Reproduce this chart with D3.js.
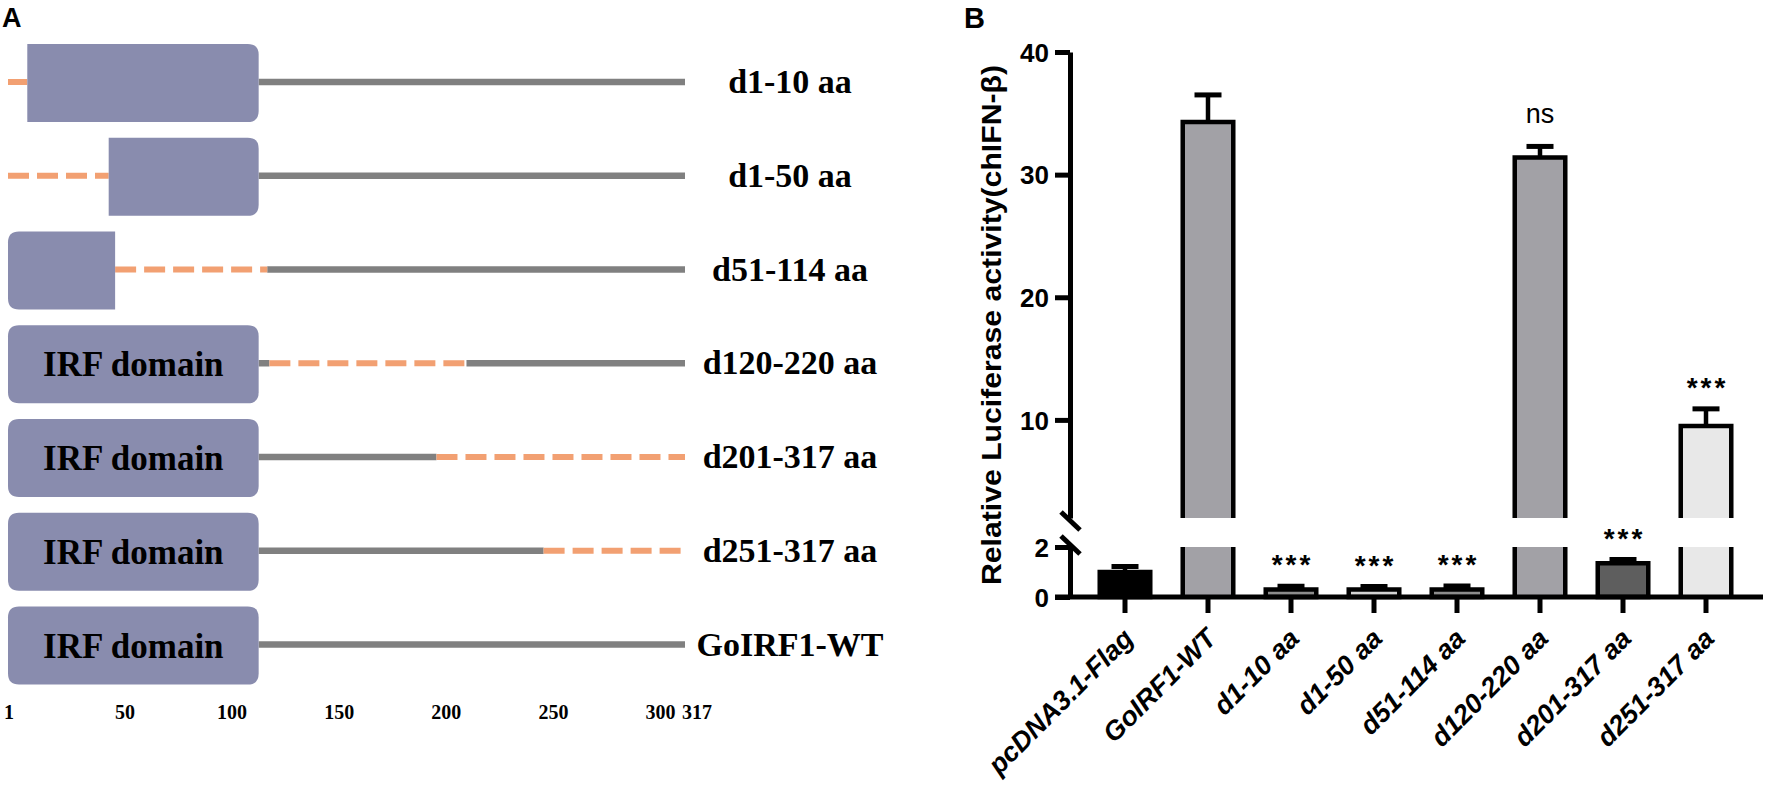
<!DOCTYPE html>
<html><head><meta charset="utf-8">
<script src="https://cdn.jsdelivr.net/npm/d3@7"></script>
<style>
html,body{margin:0;padding:0;background:#fff;}
svg{display:block;}
</style></head>
<body>
<svg id="chart" width="1769" height="790"></svg>
<script>
// ---------- Panel A data ----------
const proteinLength = 317;
const irfDomain = [1, 118];
const constructs = ["d1-10 aa", "d1-50 aa", "d51-114 aa", "d120-220 aa", "d201-317 aa", "d251-317 aa", "GoIRF1-WT"];
const deletions = [[1, 10], [1, 48], [51, 122], [123, 215], [201, 317], [251, 317], null];
const aaTicks = [1, 50, 100, 150, 200, 250, 300, 317];

// ---------- Panel B data ----------
const categories = ["pcDNA3.1-Flag", "GoIRF1-WT", "d1-10 aa", "d1-50 aa", "d51-114 aa", "d120-220 aa", "d201-317 aa", "d251-317 aa"];
const means = [1.0, 34.3, 0.3, 0.3, 0.3, 31.4, 1.35, 9.5];
const errors = [0.22, 2.2, 0.13, 0.12, 0.14, 0.9, 0.15, 1.4];
const significance = ["", "", "***", "***", "***", "ns", "***", "***"];
const upperTicks = [10, 20, 30, 40];
const lowerTicks = [0, 2];
const breakValue = 2;

const barColors = ["#000000", "#a2a1a6", "#8c8c8c", "#d4d4d4", "#8c8c8c", "#a2a1a6", "#5e5e5e", "#e8e8e8"];

const svg = d3.select("#chart");

// =================== PANEL A ===================
const A = svg.append("g");
A.append("text").attr("x", 2).attr("y", 27).text("A")
  .attr("font-family", "Liberation Sans, Arial, sans-serif").attr("font-weight", "bold").attr("font-size", 27);

const xA = d3.scaleLinear().domain([1, proteinLength]).range([8, 685]);
const yA = d3.scaleBand().domain(constructs).range([44, 684.5]).paddingInner(0.168).paddingOuter(0);

const boxColor = "#898cae", delColor = "#f2a072", lineColor = "#808080";

function boxPath(x0, x1, y0, y1, rl, rr) {
  return `M${x0 + rl},${y0} L${x1 - rr},${y0} Q${x1},${y0} ${x1},${y0 + rr} L${x1},${y1 - rr} Q${x1},${y1} ${x1 - rr},${y1} L${x0 + rl},${y1} Q${x0},${y1} ${x0},${y1 - rl} L${x0},${y0 + rl} Q${x0},${y0} ${x0 + rl},${y0} Z`;
}

function subtract(seg, del) {
  if (!del) return [seg];
  const out = [];
  if (del[0] > seg[0]) out.push([seg[0], Math.min(seg[1], del[0])]);
  if (del[1] < seg[1]) out.push([Math.max(seg[0], del[1]), seg[1]]);
  return out.filter(s => s[1] > s[0]);
}

constructs.forEach((name, i) => {
  const del = deletions[i];
  const y0 = yA(name), y1 = y0 + yA.bandwidth(), yc = (y0 + y1) / 2 - 1;
  const g = A.append("g");
  subtract([irfDomain[1], proteinLength], del).forEach(s => {
    g.append("line").attr("x1", xA(s[0])).attr("x2", xA(s[1])).attr("y1", yc).attr("y2", yc)
      .attr("stroke", lineColor).attr("stroke-width", 6.5);
  });
  if (del) {
    g.append("line").attr("x1", xA(del[0])).attr("x2", xA(del[1])).attr("y1", yc).attr("y2", yc)
      .attr("stroke", delColor).attr("stroke-width", 6).attr("stroke-dasharray", "21,8");
  }
  subtract(irfDomain, del).forEach(s => {
    const rl = s[0] === irfDomain[0] ? 11 : 0;
    const rr = s[1] === irfDomain[1] ? 11 : 0;
    g.append("path").attr("d", boxPath(xA(s[0]), xA(s[1]), y0, y1, rl, rr)).attr("fill", boxColor);
  });
  if (!del || del[0] > irfDomain[1]) {
    g.append("text").attr("x", (xA(irfDomain[0]) + xA(irfDomain[1])) / 2).attr("y", (y0 + y1) / 2 + 12)
      .attr("text-anchor", "middle").attr("font-family", "Liberation Serif, Times New Roman, serif")
      .attr("font-weight", "bold").attr("font-size", 35).text("IRF domain");
  }
  A.append("text").attr("x", 790).attr("y", (y0 + y1) / 2 + 10).attr("text-anchor", "middle")
    .attr("font-family", "Liberation Serif, Times New Roman, serif").attr("font-weight", "bold")
    .attr("font-size", 34).text(name);
});

A.selectAll("text.aatick").data(aaTicks).enter().append("text").attr("class", "aatick")
  .attr("x", d => xA(d) + (d === 1 ? 1 : 12)).attr("y", 719).attr("text-anchor", "middle")
  .attr("font-family", "Liberation Serif, Times New Roman, serif").attr("font-weight", "bold")
  .attr("font-size", 20).text(d => d);

// =================== PANEL B ===================
const B = svg.append("g");
B.append("text").attr("x", 964).attr("y", 28).text("B")
  .attr("font-family", "Liberation Sans, Arial, sans-serif").attr("font-weight", "bold").attr("font-size", 29);

const axisX = 1070;
const yUp = d3.scaleLinear().domain([breakValue, 40]).range([518, 52]);
const yLo = d3.scaleLinear().domain([0, breakValue]).range([597, 547]);
const x = d3.scaleBand().domain(categories).range([1083.5, 1747.5]).paddingInner(0.337).paddingOuter(0.1685);
const sw = 4.5;
const black = "#000";
const sans = "Liberation Sans, Arial, sans-serif";

function yVal(v) { return v <= breakValue ? yLo(v) : yUp(v); }

categories.forEach((c, i) => {
  const v = means[i], e = errors[i];
  const x0 = x(c) + sw / 2, x1 = x(c) + x.bandwidth() - sw / 2, cx = x(c) + x.bandwidth() / 2;
  const g = B.append("g");
  const top = yVal(v + e);
  g.append("line").attr("x1", cx).attr("x2", cx).attr("y1", yVal(v)).attr("y2", top)
    .attr("stroke", black).attr("stroke-width", sw);
  g.append("line").attr("x1", cx - 13.5).attr("x2", cx + 13.5).attr("y1", top).attr("y2", top)
    .attr("stroke", black).attr("stroke-width", 5);
  if (v <= breakValue) {
    g.append("rect").attr("x", x0).attr("y", yLo(v)).attr("width", x1 - x0).attr("height", yLo(0) - yLo(v))
      .attr("fill", barColors[i]).attr("stroke", black).attr("stroke-width", sw);
  } else {
    g.append("rect").attr("x", x0).attr("y", yLo(breakValue)).attr("width", x1 - x0).attr("height", yLo(0) - yLo(breakValue))
      .attr("fill", barColors[i]);
    g.append("rect").attr("x", x0).attr("y", yUp(v)).attr("width", x1 - x0).attr("height", yUp(breakValue) - yUp(v))
      .attr("fill", barColors[i]);
    g.append("path").attr("d", `M${x0},${yLo(breakValue)} L${x0},${yLo(0)} M${x1},${yLo(breakValue)} L${x1},${yLo(0)}`)
      .attr("stroke", black).attr("stroke-width", sw).attr("fill", "none");
    g.append("path").attr("d", `M${x0},${yUp(breakValue)} L${x0},${yUp(v)} L${x1},${yUp(v)} L${x1},${yUp(breakValue)}`)
      .attr("stroke", black).attr("stroke-width", sw).attr("fill", "none");
  }
  if (significance[i]) {
    const isNs = significance[i] === "ns";
    g.append("text").attr("x", cx + (isNs ? 0 : 1.5)).attr("y", top - (isNs ? 23 : 12)).attr("text-anchor", "middle")
      .attr("font-family", sans).attr("font-weight", isNs ? "normal" : "bold")
      .attr("font-size", isNs ? 27 : 28).attr("letter-spacing", isNs ? 0 : 3).text(significance[i]);
  }
});

// y axis (upper + lower segments)
const yAxisUp = d3.axisLeft(yUp).tickValues(upperTicks).tickSize(15).tickSizeOuter(0).tickFormat(d3.format("d"));
const yAxisLo = d3.axisLeft(yLo).tickValues(lowerTicks).tickSize(15).tickSizeOuter(0).tickFormat(d3.format("d"));
[yAxisUp, yAxisLo].forEach(ax => {
  const g = B.append("g").attr("transform", `translate(${axisX},0)`).call(ax);
  g.select(".domain").attr("stroke", black).attr("stroke-width", 5);
  g.selectAll(".tick line").attr("stroke", black).attr("stroke-width", 5);
  g.selectAll(".tick text").attr("font-family", sans).attr("font-weight", "bold").attr("font-size", 26)
    .attr("x", -21).attr("dy", "0.35em").attr("fill", black);
});

// x axis
const xAxis = d3.axisBottom(x).tickSize(16).tickSizeOuter(0);
const gx = B.append("g").attr("transform", `translate(0,${yLo(0)})`).call(xAxis);
gx.select(".domain").remove();
gx.append("line").attr("x1", axisX - 15).attr("x2", 1763).attr("y1", 0).attr("y2", 0)
  .attr("stroke", black).attr("stroke-width", 5);
gx.selectAll(".tick line").attr("stroke", black).attr("stroke-width", 5);
gx.selectAll(".tick text").attr("font-family", sans).attr("font-weight", "bold").attr("font-style", "italic")
  .attr("font-size", 27).attr("fill", black).attr("text-anchor", "end")
  .attr("transform", "translate(10,43) rotate(-45)").attr("x", 0).attr("y", 0).attr("dy", 0);

// break marks on y axis
[yUp(breakValue) + 3, yLo(breakValue) - 2].forEach(yc => {
  B.append("line").attr("x1", axisX - 9).attr("x2", axisX + 10).attr("y1", yc - 9).attr("y2", yc + 9)
    .attr("stroke", black).attr("stroke-width", 5);
});

// y title
B.append("text").attr("transform", `translate(1001,325) rotate(-90)`).attr("text-anchor", "middle")
  .attr("font-family", sans).attr("font-weight", "bold").attr("font-size", 28)
  .attr("textLength", 520).attr("lengthAdjust", "spacingAndGlyphs")
  .text("Relative Luciferase activity(chIFN-β)");
</script>
</body></html>
